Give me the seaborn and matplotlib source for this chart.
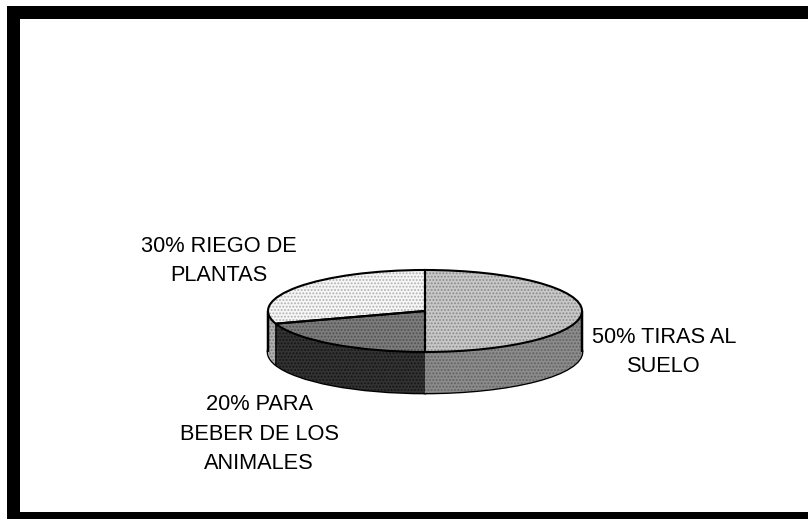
import numpy as np
import matplotlib
matplotlib.use("Agg")
import matplotlib.pyplot as plt
from matplotlib.patches import Rectangle
import seaborn as sns

# Data
shares = [50, 20, 30]
labels = ["50% TIRAS AL\nSUELO", "20% PARA\nBEBER DE LOS\nANIMALES", "30% RIEGO DE\nPLANTAS"]

# Style
top_colors = ["#c8c8c8", "#7c7c7c", "#f6f6f6"]
top_dots = ["#8a8a8a", "#505050", "#b0b0b0"]
side_colors = ["#8c8c8c", "#333333", "#b0b0b0"]
side_dots = ["#5c5c5c", "#111111", "#707070"]
label_xy = [(664, 352), (259, 434), (219, 261)]

W, H = 808, 519
CX, CY, RX, RY, DEPTH = 425, 311, 157, 41, 41

sns.set_theme(style="white")
plt.rcParams["font.family"] = ["Liberation Sans", "DejaVu Sans"]
plt.rcParams["hatch.linewidth"] = 0.9

fig = plt.figure(figsize=(W / 100, H / 100), dpi=100, facecolor="white")
ax = fig.add_axes([0, 0, 1, 1])
lw = 1.5
n_layers = DEPTH
bottom = -DEPTH / RY

# outline under the extruded side
ax.pie(shares, startangle=90, counterclock=False, center=(0, bottom), radius=1, frame=True,
       colors=side_colors, wedgeprops=dict(edgecolor="black", linewidth=lw * 1.3))
# extruded side, layer by layer
for d in np.linspace(bottom, 0, n_layers):
    wedges, _ = ax.pie(shares, startangle=90, counterclock=False, center=(0, d), radius=1, frame=True,
                       colors=side_colors, wedgeprops=dict(linewidth=0))
    for w, dc in zip(wedges, side_dots):
        w.set_edgecolor(dc)
        w.set_hatch(".....")
        w.set_linewidth(0)

# vertical edges of the side wall, from the slice boundaries
fr = np.cumsum(shares) / np.sum(shares)
ang = np.deg2rad(90 - 360 * fr[0])
ax.vlines([np.cos(ang)], bottom, np.sin(ang), color="black", lw=lw * 0.8, zorder=5)
ang2 = np.deg2rad(90 - 360 * fr[1])
ax.vlines([np.cos(ang2)], bottom + np.sin(ang2), np.sin(ang2), color="black", lw=lw * 0.8, zorder=5)
ax.vlines([-1, 1], bottom, 0, color="black", lw=lw * 1.2, zorder=5)

# top face
wedges, _ = ax.pie(shares, startangle=90, counterclock=False, center=(0, 0), radius=1, frame=True,
                   colors=top_colors, wedgeprops=dict(linewidth=0))
for w, dc in zip(wedges, top_dots):
    w.set_edgecolor(dc)
    w.set_hatch(".....")
    w.set_linewidth(0)
    w.set_zorder(6)
outline, _ = ax.pie(shares, startangle=90, counterclock=False, center=(0, 0), radius=1, frame=True,
                    colors=["none"] * 3, wedgeprops=dict(edgecolor="black", linewidth=lw))
for w in outline:
    w.set_zorder(7)

ax.set_aspect("auto")
ax.set_xlim(-CX / RX, (W - CX) / RX)
ax.set_ylim((CY - H) / RY, CY / RY)
ax.axis("off")

for (x, y), s in zip(label_xy, labels):
    fig.text(x / W, 1 - y / H, s, ha="center", va="center", fontsize=15.7, color="black",
             linespacing=1.52, multialignment="center")

# thick black frame: left, top, bottom
for (x, y, w, h) in [(7, 6, 13, 513), (7, 6, 801, 13), (7, 512, 801, 7)]:
    fig.add_artist(Rectangle((x / W, 1 - (y + h) / H), w / W, h / H, transform=fig.transFigure,
                             facecolor="black", edgecolor="none"))

fig.savefig("out.png", dpi=100)
